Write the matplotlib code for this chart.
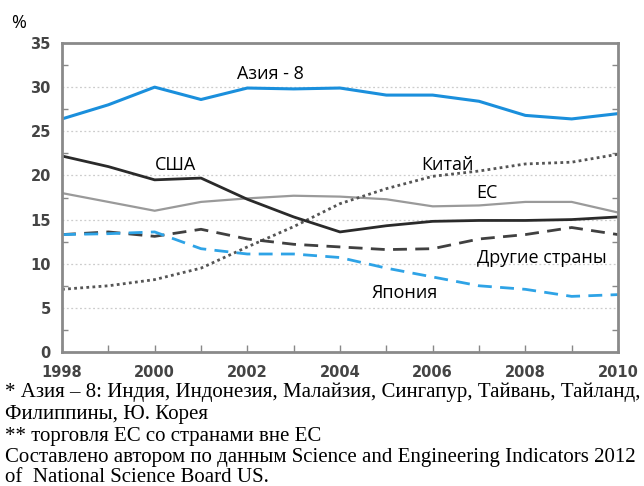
import matplotlib
matplotlib.use("Agg")
import matplotlib.pyplot as plt
from matplotlib.ticker import MultipleLocator, FixedLocator

years = list(range(1998, 2011))
asia8 = [26.4, 28.0, 30.0, 28.6, 29.9, 29.8, 29.9, 29.1, 29.1, 28.4, 26.8, 26.4, 27.0]
usa = [22.2, 21.0, 19.5, 19.7, 17.3, 15.3, 13.6, 14.3, 14.8, 14.9, 14.9, 15.0, 15.3]
eu = [18.0, 17.0, 16.0, 17.0, 17.4, 17.7, 17.6, 17.3, 16.5, 16.6, 17.0, 17.0, 15.8]
china = [7.1, 7.5, 8.2, 9.5, 11.9, 14.2, 16.8, 18.5, 19.9, 20.5, 21.3, 21.5, 22.4]
others = [13.3, 13.6, 13.1, 13.9, 12.8, 12.2, 11.9, 11.6, 11.7, 12.8, 13.3, 14.1, 13.3]
japan = [13.3, 13.4, 13.6, 11.7, 11.1, 11.1, 10.7, 9.5, 8.5, 7.5, 7.1, 6.3, 6.5]

xticks = [1998, 2000, 2002, 2004, 2006, 2008, 2010]
yticks = [0, 5, 10, 15, 20, 25, 30, 35]

footnotes = [
    "* Азия – 8: Индия, Индонезия, Малайзия, Сингапур, Тайвань, Тайланд,",
    "Филиппины, Ю. Корея",
    "** торговля ЕС со странами вне ЕС",
    "Составлено автором по данным Science and Engineering Indicators 2012",
    "of  National Science Board US.",
]

fig = plt.figure(figsize=(6.44, 4.86), dpi=100)
ax = fig.add_axes([62/644, 1-352/486, (618-62)/644, (352-43)/486])

ax.plot(years, eu, color="#9a9a9a", lw=1.6)
ax.plot(years, china, color="#555555", lw=2.0, linestyle=(0, (1, 1.2)))
ax.plot(years, others, color="#404040", lw=2.0, linestyle=(0, (5, 3)))
ax.plot(years, japan, color="#2ea3e6", lw=2.0, linestyle=(0, (5, 3)))
ax.plot(years, usa, color="#2a2a2a", lw=2.0)
ax.plot(years, asia8, color="#1a8fdc", lw=2.2)

ax.set_xlim(1998, 2010)
ax.set_ylim(0, 35)
ax.set_xticks(xticks)
ax.xaxis.set_minor_locator(MultipleLocator(1))
ax.set_yticks(yticks)
ax.yaxis.set_minor_locator(FixedLocator([2.5, 7.5, 12.5, 17.5, 22.5, 27.5, 32.5]))
ax.tick_params(axis="both", which="both", direction="in", color="#888888",
               labelcolor="#444444", labelsize=10.5)
ax.tick_params(axis="y", which="both", right=True, length=4, width=1, pad=8)
ax.tick_params(axis="y", which="major", length=0)
ax.tick_params(axis="x", which="both", length=5, width=1, pad=9)
for lab in ax.get_xticklabels() + ax.get_yticklabels():
    lab.set_fontweight("bold")
    lab.set_family("DejaVu Sans")

for v in [5, 10, 15, 20, 25, 30]:
    ax.axhline(v, color="#cccccc", lw=0.9, linestyle=(0, (1.5, 2)), zorder=0)

for s in ax.spines.values():
    s.set_color("#8a8a8a")
    s.set_linewidth(2)

lab_kw = dict(fontsize=13, family="Open Sans", color="black", va="center")
ax.text(2001.78, 31.5, "Азия - 8", ha="left", **lab_kw)
ax.text(2000.44, 21.2, "США", ha="center", **lab_kw)
ax.text(2006.33, 21.2, "Китай", ha="center", **lab_kw)
ax.text(2007.18, 18.0, "ЕС", ha="center", **lab_kw)
ax.text(2006.96, 10.6, "Другие страны", ha="left", **lab_kw)
ax.text(2005.4, 6.7, "Япония", ha="center", **lab_kw)

fig.text(11/644, 1-23/486, "%", fontsize=13, family="Open Sans", va="center", ha="left")

baselines = [397.3, 419.3, 441.3, 462.3, 482.0]
for line, yb in zip(footnotes, baselines):
    fig.text(5/644, 1-yb/486, line, fontsize=15, family="Liberation Serif",
             va="baseline", ha="left")

fig.savefig("out.png", dpi=100)
